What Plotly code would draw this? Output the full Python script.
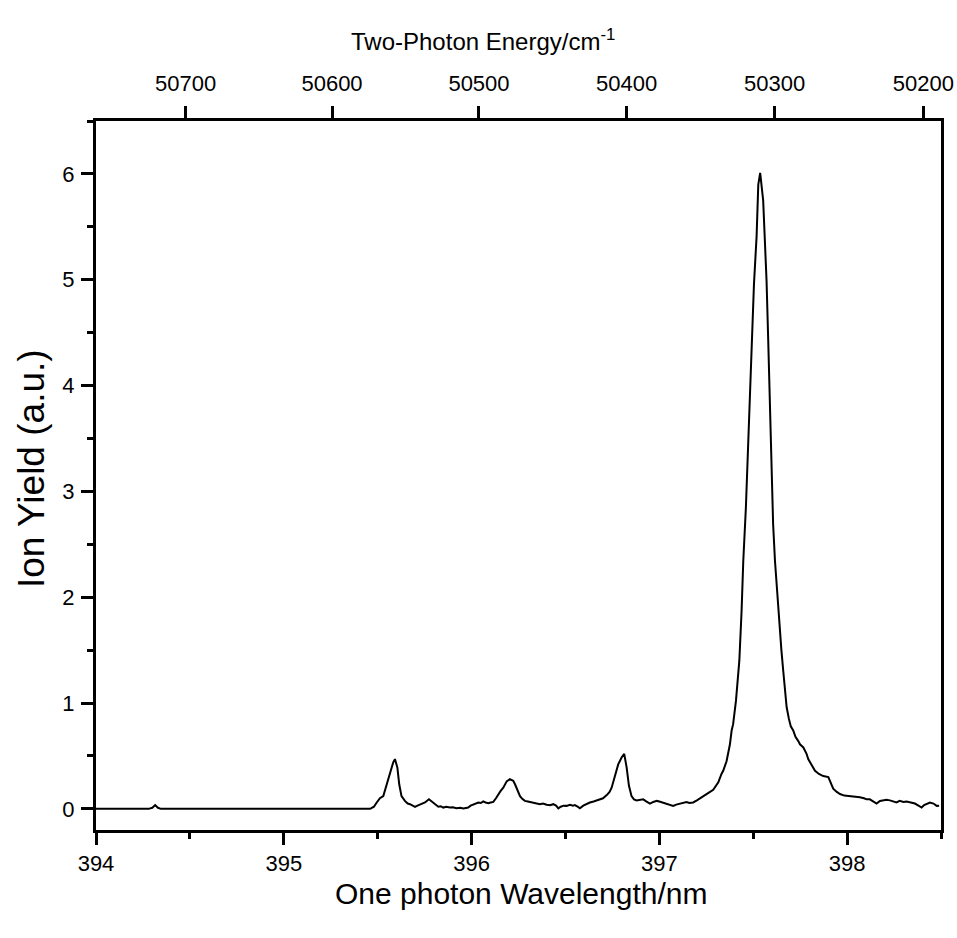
import plotly.graph_objects as go

wavelength_nm = [
    394.00, 394.28, 394.30, 394.315, 394.33, 394.345, 395.46, 395.48, 395.495, 395.512,
    395.53, 395.548, 395.566, 395.583, 395.592, 395.605, 395.615, 395.627, 395.645, 395.66,
    395.672, 395.685, 395.699, 395.712, 395.725, 395.74, 395.752, 395.773, 395.785, 395.796,
    395.81, 395.823, 395.836, 395.849, 395.865, 395.885, 395.9, 395.92, 395.94, 395.956,
    395.97, 395.982, 395.995, 396.009, 396.022, 396.036, 396.05, 396.062, 396.075, 396.089,
    396.102, 396.116, 396.13, 396.142, 396.155, 396.169, 396.187, 396.204, 396.222, 396.232,
    396.24, 396.258, 396.27, 396.284, 396.3, 396.32, 396.34, 396.364, 396.38, 396.4,
    396.418, 396.435, 396.45, 396.462, 396.475, 396.49, 396.506, 396.524, 396.54, 396.55,
    396.565, 396.577, 396.595, 396.61, 396.63, 396.65, 396.665, 396.684, 396.70, 396.72,
    396.735, 396.746, 396.764, 396.781, 396.799, 396.813, 396.826, 396.838, 396.852, 396.865,
    396.879, 396.895, 396.914, 396.93, 396.95, 396.968, 396.986, 397.0, 397.02, 397.04,
    397.055, 397.074, 397.09, 397.11, 397.127, 397.145, 397.16, 397.18, 397.2, 397.216,
    397.233, 397.25, 397.27, 397.287, 397.3, 397.314, 397.331, 397.34, 397.358, 397.376,
    397.385, 397.393, 397.408, 397.426, 397.438, 397.447, 397.461, 397.473, 397.486, 397.496,
    397.504, 397.518, 397.527, 397.537, 397.545, 397.553, 397.562, 397.571, 397.58, 397.589,
    397.598, 397.606, 397.616, 397.625, 397.638, 397.65, 397.66, 397.67, 397.678, 397.69,
    397.70, 397.713, 397.725, 397.74, 397.749, 397.767, 397.784, 397.793, 397.81, 397.829,
    397.85, 397.873, 397.9, 397.912, 397.926, 397.945, 397.962, 397.985, 398.015, 398.04,
    398.068, 398.09, 398.104, 398.121, 398.14, 398.157, 398.175, 398.19, 398.21, 398.228,
    398.245, 398.263, 398.28, 398.3, 398.317, 398.335, 398.35, 398.361, 398.38, 398.397,
    398.41, 398.425, 398.441, 398.46, 398.477, 398.49,
]

ion_yield = [
    0.0, 0.0, 0.01, 0.035, 0.01, 0.0, 0.0, 0.02, 0.06, 0.10,
    0.12, 0.23, 0.34, 0.44, 0.47, 0.39, 0.23, 0.12, 0.075, 0.05,
    0.044, 0.03, 0.019, 0.03, 0.038, 0.05, 0.06, 0.09, 0.075, 0.06,
    0.035, 0.02, 0.025, 0.012, 0.02, 0.012, 0.015, 0.005, 0.01, 0.003,
    0.008, 0.012, 0.03, 0.038, 0.045, 0.06, 0.055, 0.07, 0.06, 0.054,
    0.06, 0.066, 0.10, 0.14, 0.17, 0.20, 0.26, 0.28, 0.265, 0.23,
    0.19, 0.12, 0.095, 0.075, 0.07, 0.06, 0.055, 0.044, 0.05, 0.038,
    0.035, 0.044, 0.03, 0.005, 0.02, 0.03, 0.028, 0.038, 0.03, 0.035,
    0.02, 0.005, 0.03, 0.045, 0.06, 0.07, 0.08, 0.09, 0.10, 0.13,
    0.16, 0.20, 0.31, 0.42, 0.485, 0.52, 0.39, 0.22, 0.12, 0.09,
    0.08, 0.085, 0.09, 0.07, 0.05, 0.065, 0.075, 0.07, 0.06, 0.05,
    0.04, 0.028, 0.04, 0.05, 0.06, 0.065, 0.055, 0.06, 0.08, 0.10,
    0.12, 0.14, 0.16, 0.18, 0.21, 0.25, 0.33, 0.36, 0.45, 0.61,
    0.74, 0.80, 1.02, 1.40, 1.87, 2.34, 2.85, 3.48, 4.11, 4.55,
    4.96, 5.41, 5.90, 6.01, 5.90, 5.75, 5.37, 4.99, 4.42, 3.79,
    3.16, 2.69, 2.34, 2.10, 1.80, 1.50, 1.30, 1.10, 0.96, 0.85,
    0.78, 0.74, 0.68, 0.64, 0.61, 0.58, 0.52, 0.47, 0.42, 0.36,
    0.33, 0.31, 0.30, 0.24, 0.19, 0.16, 0.14, 0.125, 0.12, 0.11,
    0.11, 0.10, 0.09, 0.09, 0.07, 0.05, 0.075, 0.08, 0.085, 0.08,
    0.07, 0.06, 0.075, 0.065, 0.07, 0.06, 0.055, 0.05, 0.03, 0.012,
    0.035, 0.05, 0.06, 0.05, 0.028, 0.03,
]

energy_ticks_cm = [50700, 50600, 50500, 50400, 50300, 50200]
wl_ticks = [394, 395, 396, 397, 398]
y_ticks = [0, 1, 2, 3, 4, 5, 6]

FONT = "Liberation Sans, Arial, sans-serif"

# plot area in pixels (for converting title positions to paper coords)
L, R, T, B = 96, 941, 121, 830
W, H = 957, 938


def px_x(p):
    return (p - L) / (R - L)


def px_y(p):
    return (B - p) / (B - T)


fig = go.Figure()
fig.add_trace(go.Scatter(
    x=wavelength_nm, y=ion_yield, mode="lines",
    line=dict(color="black", width=2), showlegend=False, hoverinfo="skip",
))
# invisible trace to activate the top (energy) axis
fig.add_trace(go.Scatter(
    x=wavelength_nm, y=ion_yield, mode="lines", xaxis="x2",
    line=dict(color="rgba(0,0,0,0)", width=1), showlegend=False, hoverinfo="skip",
))

energy_pos = [2e7 / e for e in energy_ticks_cm]
tickfont = dict(size=22, family=FONT)

fig.update_layout(
    width=W, height=H,
    margin=dict(l=L, r=W - R, t=T, b=H - B, autoexpand=False),
    paper_bgcolor="white", plot_bgcolor="white",
    font=dict(family=FONT, color="black", size=22),
    xaxis=dict(
        range=[394, 398.5], tickvals=wl_ticks, ticks="outside", ticklen=12, tickwidth=3,
        tickcolor="black", showline=True, linewidth=3, linecolor="black", mirror=False,
        showgrid=False, zeroline=False, tickfont=tickfont, ticklabelstandoff=0,
        automargin=False,
        minor=dict(dtick=0.5, tick0=394, ticks="outside", ticklen=6, tickwidth=3, tickcolor="black"),
    ),
    xaxis2=dict(
        overlaying="x", side="top", range=[394, 398.5], tickmode="array",
        tickvals=energy_pos, ticktext=[str(e) for e in energy_ticks_cm],
        ticks="outside", ticklen=12, tickwidth=3, tickcolor="black",
        showline=True, linewidth=3, linecolor="black", showgrid=False, zeroline=False,
        tickfont=tickfont, ticklabelstandoff=6, automargin=False,
    ),
    yaxis=dict(
        range=[-0.2, 6.5], tickvals=y_ticks, ticks="outside", ticklen=12, tickwidth=3,
        tickcolor="black", showline=True, linewidth=3, linecolor="black", mirror=True,
        showgrid=False, zeroline=False, tickfont=tickfont, ticklabelstandoff=2,
        automargin=False,
        minor=dict(dtick=0.5, tick0=0, ticks="outside", ticklen=6, tickwidth=3, tickcolor="black"),
    ),
    annotations=[
        dict(text="One photon Wavelength/nm", xref="paper", yref="paper",
             x=px_x(521), y=px_y(893), xanchor="center", yanchor="middle",
             showarrow=False, font=dict(size=30, family=FONT)),
        dict(text="Two-Photon Energy/cm<sup>-1</sup>", xref="paper", yref="paper",
             x=px_x(483), y=px_y(40), xanchor="center", yanchor="middle",
             showarrow=False, font=dict(size=24, family=FONT)),
        dict(text="Ion Yield (a.u.)", xref="paper", yref="paper",
             x=px_x(31), y=px_y(469), xanchor="center", yanchor="middle", textangle=-90,
             showarrow=False, font=dict(size=37, family=FONT)),
    ],
)

fig.write_html("out.html")
